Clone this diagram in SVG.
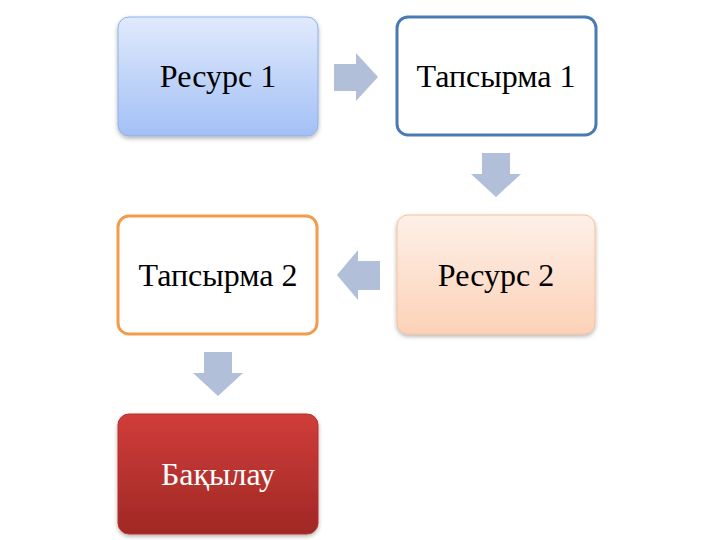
<svg xmlns="http://www.w3.org/2000/svg" width="720" height="540" viewBox="0 0 720 540">
<defs>
<linearGradient id="gBlue" x1="0" y1="0" x2="0" y2="1"><stop offset="0" stop-color="#e0eafc"/><stop offset="1" stop-color="#a3c0f5"/></linearGradient>
<linearGradient id="gPeach" x1="0" y1="0" x2="0" y2="1"><stop offset="0" stop-color="#fdf0e8"/><stop offset="1" stop-color="#fcd2b8"/></linearGradient>
<linearGradient id="gRed" x1="0" y1="0" x2="0" y2="1"><stop offset="0" stop-color="#d03d39"/><stop offset="1" stop-color="#a02825"/></linearGradient>
<filter id="sh" x="-10%" y="-10%" width="120%" height="130%"><feDropShadow dx="0" dy="2" stdDeviation="2" flood-color="#000" flood-opacity="0.3"/></filter>
</defs>
<style>
text{font-family:"Liberation Serif","Times New Roman",serif;font-size:32px;text-anchor:middle;fill:#000}
.arrow{fill:#b1c0d8}
</style>
<rect width="720" height="540" fill="#fff"/>
<g id="connectors">
<polygon class="arrow" points="334,64 356,64 356,53 378,77 356,101 356,91 334,91"/>
<polygon class="arrow" points="482,153 510,153 510,174 521,174 496,197 471,174 482,174"/>
<polygon class="arrow" points="380,261 358,261 358,250 337,275 358,300 358,290 380,290"/>
<polygon class="arrow" points="204,352 232,352 232,373 243,373 218,396 193,373 204,373"/>
</g>
<g id="node-resurs1">
<rect x="118" y="17" width="200" height="119" rx="11" fill="url(#gBlue)" stroke="#8fb0e6" stroke-width="1" filter="url(#sh)"/>
<text x="218" y="87">Ресурс 1</text>
</g>
<g id="node-tapsyrma1">
<rect x="397" y="17" width="199" height="118" rx="11" fill="#fff" stroke="#4a7ab4" stroke-width="3"/>
<text x="496" y="87">Тапсырма 1</text>
</g>
<g id="node-resurs2">
<rect x="397" y="215" width="198" height="119" rx="11" fill="url(#gPeach)" stroke="#f7bf9a" stroke-width="1" filter="url(#sh)"/>
<text x="496" y="286">Ресурс 2</text>
</g>
<g id="node-tapsyrma2">
<rect x="118" y="216" width="199" height="118" rx="11" fill="#fff" stroke="#f59b4e" stroke-width="3"/>
<text x="218" y="286">Тапсырма 2</text>
</g>
<g id="node-bakylau">
<rect x="118" y="414" width="200" height="120" rx="11" fill="url(#gRed)" stroke="#b8312e" stroke-width="1" filter="url(#sh)"/>
<text x="218" y="485" style="fill:#fff">Бақылау</text>
</g>
</svg>
